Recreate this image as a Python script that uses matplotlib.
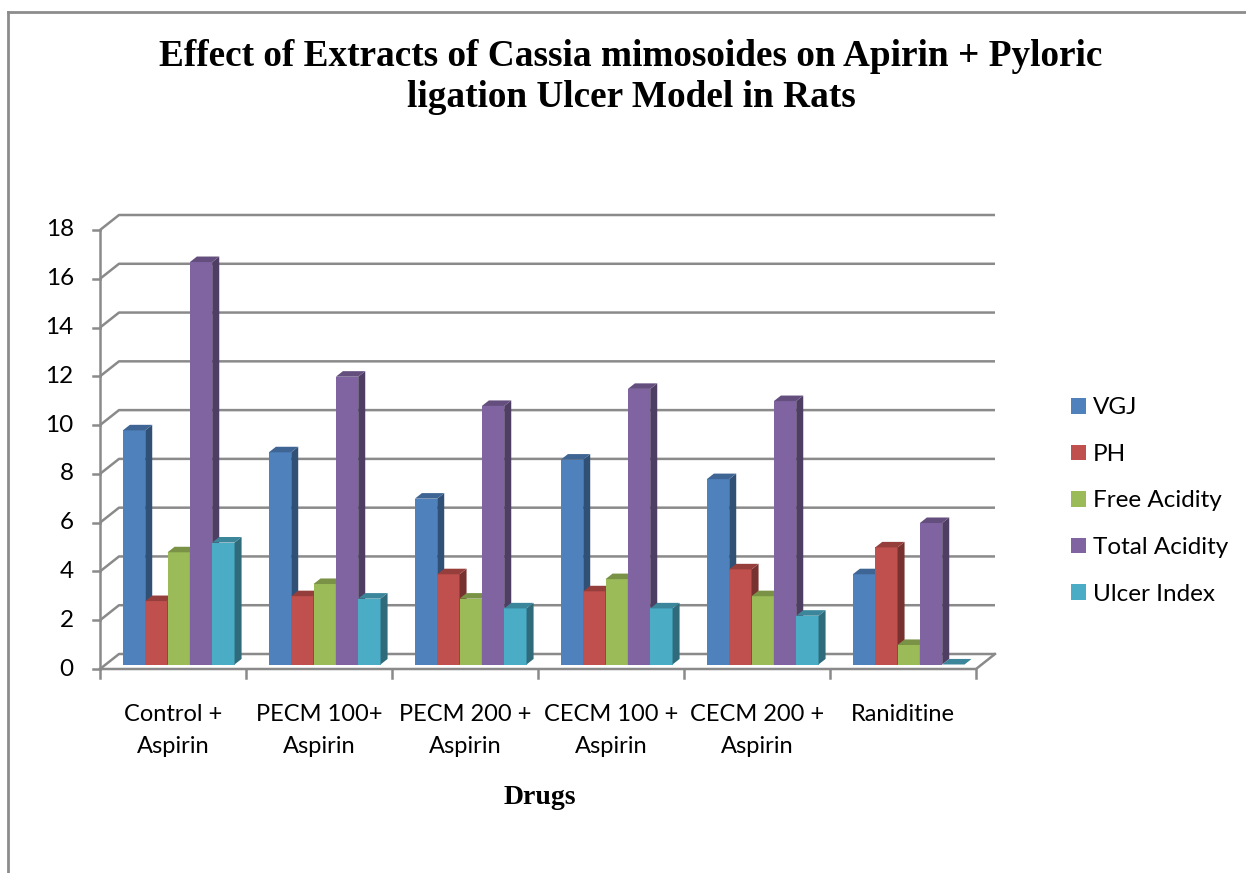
import numpy as np
import matplotlib.pyplot as plt
from matplotlib.patches import Polygon, Patch
from matplotlib.lines import Line2D

categories = ['Control +\nAspirin', 'PECM 100+\nAspirin', 'PECM 200 +\nAspirin',
              'CECM 100 +\nAspirin', 'CECM 200 +\nAspirin', 'Raniditine']
series = ['VGJ', 'PH', 'Free Acidity', 'Total Acidity', 'Ulcer Index']
vgj = [9.6, 8.7, 6.8, 8.4, 7.6, 3.7]
ph = [2.6, 2.8, 3.7, 3.0, 3.9, 4.8]
free_acidity = [4.6, 3.3, 2.7, 3.5, 2.8, 0.8]
total_acidity = [16.5, 11.8, 10.6, 11.3, 10.8, 5.8]
ulcer_index = [5.0, 2.7, 2.3, 2.3, 2.0, 0.0]
values = [vgj, ph, free_acidity, total_acidity, ulcer_index]
colors = ['#4F81BD', '#C0504D', '#9BBB59', '#8064A2', '#4BACC6']
yticks = list(range(0, 19, 2))

TICKFONT = 'Lato'
GRID = '#8a8a8a'


def shade(c, k):
    r, g, b = plt.matplotlib.colors.to_rgb(c)
    return (r * k, g * k, b * k)


fig = plt.figure(figsize=(12.46, 8.73), dpi=100)
# chart border (only top and left visible in the reference)
fig.add_artist(Line2D([8 / 1246, 8 / 1246], [0, 1 - 12 / 873], color='#8c8c8c', lw=2))
fig.add_artist(Line2D([8 / 1246, 1], [1 - 12 / 873, 1 - 12 / 873], color='#8c8c8c', lw=2))

ax = fig.add_axes([100 / 1246, 1 - 669 / 873, 876 / 1246, 439 / 873])
ax.set_xlim(0, 6)
ax.set_ylim(0, 18)
ax.axis('off')

n = len(categories)
DX = 19 / 146      # depth offset in category units
DY = 15 / 24.39    # depth offset in value units

# back wall gridlines + side wall diagonals
for y in yticks:
    ax.plot([0, DX, n + DX], [y, y + DY, y + DY], color=GRID, lw=1.8,
            clip_on=False, zorder=1, solid_capstyle='butt')
    ax.plot([-0.048, 0], [y, y], color=GRID, lw=1.8, clip_on=False, zorder=1)
    ax.text(-0.18, y, str(y), ha='right', va='center', fontsize=17.5,
            family=TICKFONT, color='black')

# floor and axes lines
ax.plot([0, n, n + DX], [0, 0, DY], color=GRID, lw=1.8, clip_on=False, zorder=1)
ax.plot([0, 0], [0, 18], color=GRID, lw=1.8, clip_on=False, zorder=1)
for i in range(n + 1):
    ax.plot([i, i], [0, -0.37], color=GRID, lw=1.8, clip_on=False, zorder=1)

# 3D-looking bars
W = 0.153
f0 = 0.3
d = 0.37
ox, oy = f0 * DX, f0 * DY
ddx, ddy = d * DX, d * DY
z = 3
for i in range(n):
    left0 = i + 0.5 - 2.5 * W + ox
    for s in range(len(series)):
        v = values[s][i]
        x0 = left0 + s * W
        x1 = x0 + W
        b = oy
        t = oy + v
        if v > 0:
            ax.add_patch(Polygon([[x0, b], [x1, b], [x1, t], [x0, t]], closed=True,
                                 facecolor=colors[s], edgecolor='none', zorder=z))
            ax.add_patch(Polygon([[x1, b], [x1 + ddx, b + ddy], [x1 + ddx, t + ddy], [x1, t]],
                                 closed=True, facecolor=shade(colors[s], 0.62),
                                 edgecolor='none', zorder=z))
        ax.add_patch(Polygon([[x0, t], [x1, t], [x1 + ddx, t + ddy], [x0 + ddx, t + ddy]],
                             closed=True, facecolor=shade(colors[s], 0.78),
                             edgecolor='none', zorder=z))
        z += 1

# category labels
for i, c in enumerate(categories):
    ax.text(i + 0.5, -1.45, c, ha='center', va='top', fontsize=17,
            family=TICKFONT, linespacing=1.6)

fig.text(540 / 1246, 1 - 797 / 873, 'Drugs', ha='center', va='center',
         fontsize=20, fontweight='bold', family='Liberation Serif')

fig.text(631 / 1246, 1 - 77 / 873,
         'Effect of Extracts of Cassia mimosoides on Apirin + Pyloric\nligation Ulcer Model in Rats',
         ha='center', va='center', fontsize=26.8, fontweight='bold',
         family='Liberation Serif', linespacing=1.2)

handles = [Patch(facecolor=c, edgecolor='none') for c in colors]
fig.legend(handles, series, loc='center left', bbox_to_anchor=(1049 / 1246, 1 - 501 / 873),
           frameon=False, prop={'family': TICKFONT, 'size': 17.5},
           handlelength=0.62, handleheight=0.62, handletextpad=0.3, labelspacing=1.05)

fig.savefig('out.png', dpi=100)
